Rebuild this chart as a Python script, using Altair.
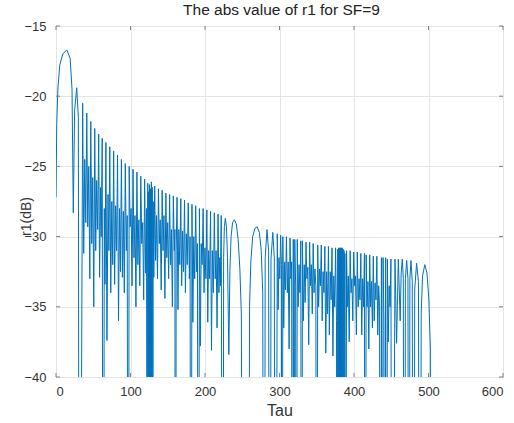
import altair as alt
import pandas as pd

# ---- data (tau, |r1| in dB); -80 marks a deep null below the axis ----
tau_main = [0, 1, 2.5, 5, 9, 14.5, 19, 21.5, 23.2, 25, 27.8, 30, 31.3]
db_main = [-27.2, -22.0, -19.5, -17.8, -17.0, -16.7, -17.3, -19.5, -28.3, -21.0, -19.4, -21.5, -80]

tau_d1 = [35.8, 37.2, 38.6, 40.0, 41.3, 42.6, 44.0, 45.4, 46.7, 48.0, 49.3, 50.7, 52.0, 53.3,
          54.6, 56.0, 57.3, 58.5, 59.8, 60.8, 62.0, 63.5, 64.8, 65.8, 67.0, 68.4, 69.8, 71.0,
          72.2, 73.5, 74.9, 76.2, 77.4, 78.7, 80.0, 81.3, 82.6, 83.9, 85.2, 86.5, 87.8, 89.1,
          90.4, 91.7, 93.0, 94.4, 95.6, 96.8, 98.2, 99.5, 100.8, 102.1, 103.4, 104.7, 106.0,
          107.3, 108.6, 109.9, 111.2, 112.5, 113.8, 115.1, 116.4, 117.7, 119.0, 120.3, 121.5,
          122.6, 123.2, 123.8, 124.4, 125.0, 125.6, 126.2, 126.8, 127.4, 128.0, 128.6, 129.2,
          129.8, 130.5, 131.3, 132.5, 133.7, 134.9, 136.2, 137.5, 138.7, 139.9, 141.2, 142.5,
          143.7, 144.9, 146.2, 147.5, 148.7, 149.9, 151.2, 152.5, 153.7, 154.9, 156.2, 157.5,
          158.8, 159.6, 160.4, 161.3, 162.5, 163.7, 164.9, 166.2, 167.5, 168.7, 169.9, 171.2,
          172.5, 173.7, 174.9, 176.2, 177.5, 179.0, 180.0, 181.0, 182.5, 183.7, 184.9, 186.2,
          187.5, 188.7, 189.9, 191.0, 192.5, 193.7, 194.9, 196.2, 197.5, 198.7, 199.9, 201.2,
          202.5, 203.7, 204.9, 206.2, 207.5, 208.7, 209.9, 211.2, 212.5, 213.7, 214.9, 216.2,
          217.5, 218.7, 219.9, 220.6, 221.8, 224.0]
db_d1 = [-20.5, -31.2, -24.5, -29.0, -21.2, -29.3, -25.0, -33.0, -21.8, -30.5, -25.8, -35.0, -22.3, -31.0,
         -26.0, -29.5, -22.7, -32.9, -26.5, -30.0, -23.0, -80, -28.0, -33.4, -23.3, -37.4, -27.0, -31.0,
         -23.6, -34.0, -27.5, -32.0, -23.9, -33.4, -27.8, -31.0, -24.2, -36.0, -28.0, -32.5, -24.5, -32.9,
         -28.2, -34.0, -24.8, -31.0, -28.5, -80, -25.0, -29.3, -28.0, -33.5, -25.2, -31.5, -28.5,
         -35.0, -25.4, -32.0, -28.8, -33.5, -25.7, -30.5, -29.0, -34.5, -25.9, -32.6, -28.0,
         -80, -26.2, -80, -26.8, -80, -26.3, -80, -26.6, -80, -26.1, -80, -26.5,
         -80, -27.5, -32.9, -26.4, -31.7, -28.5, -33.0, -26.6, -30.5, -28.8, -33.8, -26.7,
         -31.0, -28.5, -34.4, -26.9, -31.5, -29.0, -33.0, -27.0, -32.0, -29.5, -35.0, -27.1,
         -31.0, -29.5, -80, -31.0, -27.2, -35.2, -29.5, -32.0, -27.3, -33.5, -29.6, -32.5,
         -27.4, -34.0, -29.8, -32.0, -27.6, -33.0, -30.0, -80, -27.7, -36.1, -30.0, -33.0,
         -27.8, -32.5, -30.5, -80, -28.0, -37.8, -30.5, -32.0, -28.0, -34.0, -30.8, -33.0,
         -28.1, -36.1, -31.0, -33.0, -28.2, -38.1, -31.0, -34.0, -28.3, -33.0, -31.0, -36.5,
         -28.4, -34.0, -31.5, -33.5, -28.5, -80]

tau_wide = [225.0, 226.0, 227.3, 228.8, 230.2, 232.0, 233.4, 235.0, 237.0, 239.4, 242.0, 244.5,
            246.8, 248.8, 251.5, 255.0, 258.0, 259.8, 261.5, 264.0, 267.0, 270.0, 273.0, 275.5,
            277.5, 279.3, 280.8, 283.2, 285.4, 287.0, 288.6, 291.0, 293.0, 294.6]
db_wide = [-31.5, -29.3, -28.7, -29.3, -31.5, -38.4, -32.5, -30.0, -29.0, -28.8, -29.1, -30.2,
           -32.3, -35.5, -80, -42.0, -80, -35.0, -31.8, -30.0, -29.4, -29.3, -29.7, -31.0,
           -34.0, -80, -31.5, -29.5, -31.0, -80, -31.6, -29.7, -31.5, -80]

tau_d2 = [297.0, 298.2, 299.3, 300.4, 301.5, 302.6, 303.3, 304.5, 305.7, 306.9, 308.1, 309.3,
          310.5, 311.7, 312.9, 314.1, 315.3, 316.3, 317.2, 318.5, 319.3, 320.5, 321.7, 322.5,
          323.8, 325.0, 326.2, 327.4, 328.6, 329.6, 330.8, 332.0, 333.2, 334.4, 335.6, 336.8,
          338.0, 339.2, 340.4, 341.6, 342.8, 344.0, 345.2, 346.4, 347.6, 348.8, 350.0, 351.3,
          352.5, 353.7, 354.9, 356.1, 357.3, 358.5, 359.7, 360.9, 362.1, 363.3, 364.5, 365.7,
          366.9, 368.1, 369.3, 370.5, 371.7, 372.9, 374.1, 375.3, 376.5, 377.5, 378.2, 378.8,
          379.4, 380.0, 380.6, 381.2, 381.8, 382.4, 383.0, 383.6, 384.2, 384.8, 385.4, 386.0,
          386.6, 387.2, 387.8, 388.6, 390.0, 391.2, 392.4, 393.6, 394.8, 396.0, 397.2, 398.4,
          399.6, 400.8, 402.0, 403.2, 404.4, 405.6, 406.8, 408.0, 409.2, 410.4, 411.6, 412.8,
          414.0, 415.0, 416.3, 417.5, 418.7, 419.9, 421.1, 422.3, 423.5, 424.7, 425.9, 427.1,
          428.3, 429.5, 430.7, 431.9, 433.1, 434.3, 435.5, 436.8, 437.8, 439.0, 440.2, 441.2,
          442.5, 443.5, 444.8, 446.0, 447.2, 448.4, 449.6, 451.0]
db_d2 = [-29.8, -35.2, -31.5, -33.0, -29.9, -32.0, -80, -30.0, -36.5, -31.8, -33.8, -30.0,
         -34.0, -31.8, -38.0, -30.1, -33.0, -31.8, -80, -30.2, -80, -30.2, -33.5, -80,
         -30.2, -35.0, -32.0, -34.0, -30.3, -80, -30.3, -36.0, -32.0, -34.7, -30.4, -33.0,
         -32.2, -37.7, -30.4, -33.5, -32.0, -35.5, -30.5, -34.0, -32.3, -33.5, -80, -30.6,
         -35.0, -32.3, -33.5, -30.6, -36.0, -32.5, -34.0, -30.7, -38.3, -32.5, -35.5, -30.7,
         -37.0, -32.5, -34.5, -30.8, -38.5, -32.8, -35.0, -30.8, -36.0, -80, -30.9, -80,
         -30.8, -80, -30.8, -80, -30.8, -80, -30.8, -80, -30.8, -80, -30.9, -80,
         -31.0, -80, -31.2, -80, -31.0, -35.0, -32.8, -37.5, -31.0, -34.0, -33.0, -36.0,
         -31.1, -33.5, -32.8, -37.0, -31.1, -35.0, -33.0, -34.5, -31.2, -37.0, -33.0, -35.0,
         -31.2, -80, -31.3, -35.0, -33.2, -38.0, -31.3, -35.0, -33.2, -36.5, -31.4, -36.0,
         -33.3, -34.5, -31.4, -37.0, -33.5, -35.0, -80, -31.5, -80, -31.5, -36.0, -80,
         -31.5, -80, -31.6, -37.5, -33.5, -35.0, -31.6, -80]

tau_tail = [455.0, 457.2, 459.5, 462.0, 463.3, 464.8, 466.2, 467.5, 469.0, 470.7, 472.4, 473.8,
            475.0, 476.5, 478.2, 480.0, 481.5, 484.0, 486.5, 488.6, 490.2, 492.0, 495.0, 498.0,
            500.5, 502.5, 504.3]
db_tail = [-31.6, -37.6, -31.6, -36.0, -32.6, -31.6, -33.0, -80, -33.0, -31.7, -33.0, -80,
           -33.0, -31.7, -33.2, -80, -33.8, -31.9, -33.2, -80, -35.5, -32.8, -32.0, -32.6,
           -34.5, -38.0, -80]

x_ticks = [0, 100, 200, 300, 400, 500, 600]
y_ticks = [-40, -35, -30, -25, -20, -15]
title_text = ["The abs value of r1 for SF=9"]

tau = tau_main + tau_d1 + tau_wide + tau_d2 + tau_tail
db = db_main + db_d1 + db_wide + db_d2 + db_tail
df = pd.DataFrame({"tau": tau, "db": db, "i": list(range(len(tau)))})
xt = pd.DataFrame({"v": x_ticks})
yt = pd.DataFrame({"v": y_ticks})
tt = pd.DataFrame({"t": title_text})

W, H = 447, 351
FONT = "Liberation Sans"
FRAME = "#808080"
xs = alt.Scale(domain=[0, 600], nice=False, zero=False)
ys = alt.Scale(domain=[-40, -15], nice=False, zero=False)

line = alt.Chart(df).mark_line(color="#0072BD", strokeWidth=1.0, clip=True).encode(
    x=alt.X("tau:Q", scale=xs, axis=alt.Axis(
        values=x_ticks, title="Tau", grid=True, gridColor="#e4e4e4", domain=False,
        ticks=False, tickSize=0, labelPadding=8, labelFontSize=13, labelFont=FONT,
        labelColor="#333333", titleFont=FONT, titleFontSize=16, titleFontWeight="normal",
        titleColor="#333333", titleBaseline="alphabetic", titleY=38)),
    y=alt.Y("db:Q", scale=ys, axis=alt.Axis(
        values=y_ticks, title="r1(dB)", grid=True, gridColor="#e4e4e4", domain=False,
        ticks=False, tickSize=0, labelPadding=10, labelFontSize=13, labelFont=FONT,
        labelColor="#333333", titleFont=FONT, titleFontSize=14, titleFontWeight="normal",
        titleColor="#333333", titleAngle=270, titleBaseline="middle", titleAlign="center",
        titleX=-30, titleY=190)),
    order="i:Q",
)

tick_len = 4
xb = alt.Chart(xt).mark_rule(color=FRAME, strokeWidth=1).encode(
    x=alt.X("v:Q", scale=xs), y=alt.value(H), y2=alt.value(H - tick_len))
xtop = alt.Chart(xt).mark_rule(color=FRAME, strokeWidth=1).encode(
    x=alt.X("v:Q", scale=xs), y=alt.value(0), y2=alt.value(tick_len))
yl = alt.Chart(yt).mark_rule(color=FRAME, strokeWidth=1).encode(
    y=alt.Y("v:Q", scale=ys), x=alt.value(0), x2=alt.value(tick_len))
yr = alt.Chart(yt).mark_rule(color=FRAME, strokeWidth=1).encode(
    y=alt.Y("v:Q", scale=ys), x=alt.value(W), x2=alt.value(W - tick_len))

title = alt.Chart(tt).mark_text(font=FONT, fontSize=15.5, color="#222222", align="center",
                                baseline="alphabetic").encode(
    text="t:N", x=alt.value(W / 2 + 2), y=alt.value(-11))

chart = alt.layer(line, xb, xtop, yl, yr, title).properties(
    width=W, height=H,
    autosize=alt.AutoSizeParams(type="none"),
    padding={"left": 56, "top": 26, "right": 11, "bottom": 46},
    background="white",
).configure_view(stroke=FRAME, strokeWidth=1)

chart.save("out.html", embed_options={"renderer": "svg", "actions": False})
